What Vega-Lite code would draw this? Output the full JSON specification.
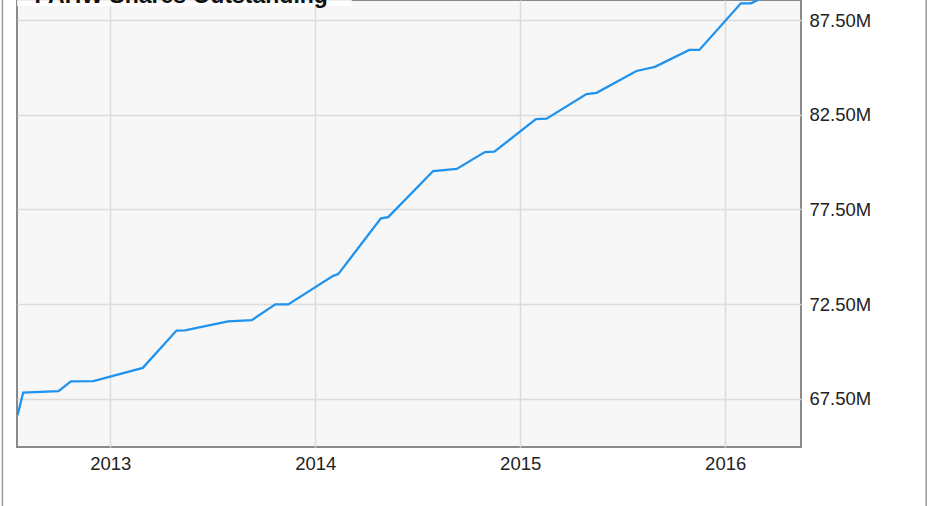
{
  "$schema": "https://vega.github.io/schema/vega-lite/v6.json",
  "width": 784,
  "height": 447,
  "autosize": "none",
  "padding": {"left": 17, "top": 0, "right": 130, "bottom": 59},
  "background": "#ffffff",
  "config": {
    "view": {"fill": "#f7f7f7", "stroke": "#8a8a8a", "strokeWidth": 2},
    "font": "Liberation Sans",
    "axis": {
      "labelFont": "Liberation Sans",
      "labelFontSize": 18.5,
      "labelColor": "#222222",
      "domain": false,
      "ticks": false,
      "grid": true,
      "gridColor": "#dcdcdc",
      "gridWidth": 1.5,
      "title": null
    }
  },
  "data": {
    "values": [
      {"date": "2012-07-20", "shares": 66640000},
      {"date": "2012-07-30", "shares": 67840000},
      {"date": "2012-10-01", "shares": 67910000},
      {"date": "2012-10-23", "shares": 68430000},
      {"date": "2012-12-02", "shares": 68440000},
      {"date": "2013-02-28", "shares": 69140000},
      {"date": "2013-04-29", "shares": 71110000},
      {"date": "2013-05-14", "shares": 71120000},
      {"date": "2013-07-30", "shares": 71600000},
      {"date": "2013-09-10", "shares": 71660000},
      {"date": "2013-10-22", "shares": 72490000},
      {"date": "2013-11-14", "shares": 72490000},
      {"date": "2014-02-02", "shares": 74000000},
      {"date": "2014-02-11", "shares": 74090000},
      {"date": "2014-04-28", "shares": 77030000},
      {"date": "2014-05-11", "shares": 77100000},
      {"date": "2014-07-30", "shares": 79530000},
      {"date": "2014-09-10", "shares": 79640000},
      {"date": "2014-10-30", "shares": 80530000},
      {"date": "2014-11-16", "shares": 80550000},
      {"date": "2015-01-29", "shares": 82270000},
      {"date": "2015-02-17", "shares": 82290000},
      {"date": "2015-04-29", "shares": 83590000},
      {"date": "2015-05-17", "shares": 83660000},
      {"date": "2015-07-27", "shares": 84810000},
      {"date": "2015-08-29", "shares": 85030000},
      {"date": "2015-10-29", "shares": 85920000},
      {"date": "2015-11-16", "shares": 85920000},
      {"date": "2016-01-29", "shares": 88380000},
      {"date": "2016-02-16", "shares": 88380000},
      {"date": "2016-02-28", "shares": 88560000},
      {"date": "2016-03-15", "shares": 88950000}
    ]
  },
  "layer": [
    {
      "data": {"values": [{}]},
      "mark": {"type": "rule", "color": "#9a9a9a", "strokeWidth": 1.5, "clip": false},
      "encoding": {
        "x": {"datum": {"year": 2012, "month": 6, "date": 23}, "type": "temporal"},
        "y": {"datum": 55000000, "type": "quantitative"},
        "y2": {"datum": 95000000}
      }
    },
    {
      "data": {"values": [{}]},
      "mark": {"type": "rule", "color": "#9a9a9a", "strokeWidth": 1.5, "clip": false},
      "encoding": {
        "x": {"datum": {"year": 2016, "month": 12, "date": 24}, "type": "temporal"},
        "y": {"datum": 55000000, "type": "quantitative"},
        "y2": {"datum": 95000000}
      }
    },
    {
      "data": {"values": [{}]},
      "mark": {"type": "rect", "fill": "#ffffff", "opacity": 0.85, "clip": true},
      "encoding": {
        "x": {"datum": {"year": 2012, "month": 7, "date": 19}, "type": "temporal"},
        "x2": {"datum": {"year": 2014, "month": 3, "date": 7}},
        "y": {"datum": 88220000, "type": "quantitative"},
        "y2": {"datum": 89500000}
      }
    },
    {
      "data": {"values": [{"label": "PAHW Shares Outstanding"}]},
      "mark": {"type": "text", "align": "left", "baseline": "alphabetic", "fontSize": 23, "fontWeight": "bold", "color": "#111111", "font": "Liberation Sans"},
      "encoding": {
        "x": {"datum": {"year": 2012, "month": 8, "date": 19}, "type": "temporal"},
        "y": {"datum": 88420000, "type": "quantitative"},
        "text": {"field": "label"}
      }
    },
    {
      "mark": {"type": "line", "color": "#2093ee", "strokeWidth": 2.3, "clip": true},
      "encoding": {
        "x": {
          "field": "date",
          "type": "temporal",
          "scale": {"domain": [{"year": 2012, "month": 7, "date": 19}, {"year": 2016, "month": 5, "date": 15}]},
          "axis": {
            "values": [
              {"year": 2013, "month": 1, "date": 1},
              {"year": 2014, "month": 1, "date": 1},
              {"year": 2015, "month": 1, "date": 1},
              {"year": 2016, "month": 1, "date": 1}
            ],
            "format": "%Y",
            "labelPadding": 7,
            "labelFlush": false
          }
        },
        "y": {
          "field": "shares",
          "type": "quantitative",
          "scale": {"domain": [64965000, 88556000], "nice": false, "zero": false},
          "axis": {
            "orient": "right",
            "values": [67500000, 72500000, 77500000, 82500000, 87500000],
            "labelExpr": "format(datum.value / 1000000, '.2f') + 'M'",
            "labelPadding": 8
          }
        }
      }
    }
  ]
}
